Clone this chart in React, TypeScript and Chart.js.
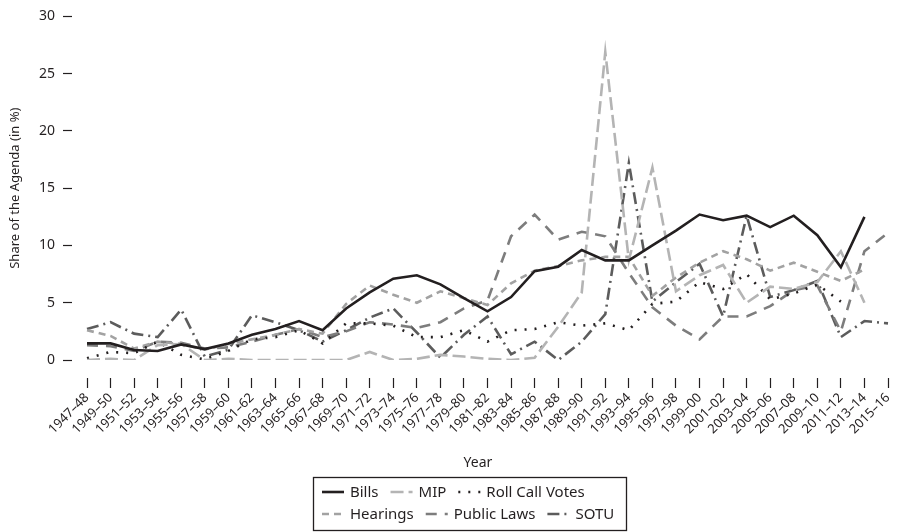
import React, { useEffect, useRef } from "react";
import { Chart, registerables } from "chart.js";

Chart.register(...registerables);

const FONT = "'Noto Sans', 'Open Sans', sans-serif";
const INK = "#231f20";

const categories = [
  "1947–48", "1949–50", "1951–52", "1953–54", "1955–56", "1957–58", "1959–60",
  "1961–62", "1963–64", "1965–66", "1967–68", "1969–70", "1971–72", "1973–74",
  "1975–76", "1977–78", "1979–80", "1981–82", "1983–84", "1985–86", "1987–88",
  "1989–90", "1991–92", "1993–94", "1995–96", "1997–98", "1999–00", "2001–02",
  "2003–04", "2005–06", "2007–08", "2009–10", "2011–12", "2013–14", "2015–16",
];

const bills = [
  1.45, 1.45, 0.87, 0.78, 1.36, 0.95, 1.45, 2.2, 2.7, 3.4,
  2.6, 4.5, 5.9, 7.1, 7.4, 6.6, 5.4, 4.25, 5.5, 7.75,
  8.15, 9.6, 8.7, 8.7, 10.0, 11.3, 12.7, 12.2, 12.6, 11.6,
  12.6, 10.9, 8.1, 12.5, null,
];

const mip = [
  0, 0.1, 0, 1.3, 1.4, 0, 0.1, 0, 0, 0,
  0, 0, 0.7, 0, 0.1, 0.45, 0.3, 0.1, 0, 0.2,
  2.9, 5.9, 26.9, 8.7, 16.8, 6.0, 7.4, 8.3, 5.0, 6.4,
  6.2, 6.8, 9.5, 5.0, null,
];

const rollCallVotes = [
  0.15, 0.7, 0.6, 1.6, 0.45, 0.05, 0.8, 1.8, 2.0, 2.6,
  1.45, 3.2, 3.2, 3.0, 2.0, 2.0, 2.6, 1.6, 2.6, 2.7,
  3.3, 3.0, 3.2, 2.6, 4.9, 5.1, 6.8, 6.2, 7.5, 5.3,
  5.8, 6.6, 5.1, null, null,
];

const hearings = [
  2.6, 2.1, 1.0, 1.6, 1.4, 0.9, 1.4, 1.8, 2.2, 2.7,
  2.3, 4.9, 6.5, 5.7, 5.0, 6.0, 5.4, 4.8, 6.7, 7.8,
  8.2, 8.7, 9.0, 9.0, 5.6, 7.2, 8.5, 9.5, 8.8, 7.8,
  8.5, 7.7, 6.9, 7.9, null,
];

const publicLaws = [
  1.3, 1.2, 0.8, 1.6, 1.5, 1.0, 1.1, 1.6, 2.2, 2.7,
  2.0, 2.5, 3.3, 3.1, 2.8, 3.3, 4.5, 5.2, 10.8, 12.7,
  10.5, 11.2, 10.8, 7.6, 4.6, 3.0, 1.8, 3.8, 3.8, 4.7,
  6.1, 6.5, 2.5, 9.5, 11.1,
];

const sotu = [
  2.7, 3.3, 2.3, 2.0, 4.4, 0.3, 0.9, 3.9, 3.3, 2.6,
  1.6, 2.6, 3.7, 4.5, 2.4, 0.2, 2.2, 3.8, 0.5, 1.6,
  0.0, 1.6, 4.0, 17.2, 5.1, 6.8, 8.4, 3.8, 12.6, 5.5,
  6.1, 6.9, 2.0, 3.4, 3.2,
];

const seriesNames = ["Bills", "MIP", "Roll Call Votes", "Hearings", "Public Laws", "SOTU"];
const seriesValues = [bills, mip, rollCallVotes, hearings, publicLaws, sotu];
const yTickValues = [0, 5, 10, 15, 20, 25, 30];

const seriesStyles = [
  { color: INK, dash: [] as number[], width: 2.6 },
  { color: "#b4b4b4", dash: [13, 5], width: 2.6 },
  { color: INK, dash: [2, 8], width: 2.6 },
  { color: "#a2a2a2", dash: [7, 5], width: 2.6 },
  { color: "#7d7d7d", dash: [11, 8], width: 2.6 },
  { color: "#5c5c5c", dash: [12, 5, 2, 5], width: 2.6 },
];

const legendPlugin = {
  id: "boxedLegend",
  afterDraw(chart: any) {
    const ctx = chart.ctx;
    ctx.save();
    ctx.fillStyle = INK;
    ctx.font = `14px ${FONT}`;
    ctx.textAlign = "center";
    ctx.textBaseline = "middle";
    ctx.fillText("Year", 478, 463);

    ctx.strokeStyle = INK;
    ctx.lineWidth = 1.3;
    ctx.strokeRect(313.5, 477.5, 313, 53);

    const rows = [[0, 1, 2], [3, 4, 5]];
    const rowY = [492, 514];
    ctx.font = `15px ${FONT}`;
    ctx.textAlign = "left";
    rows.forEach((row, r) => {
      let x = 322;
      const y = rowY[r];
      row.forEach((i) => {
        const ds = chart.data.datasets[i];
        ctx.save();
        ctx.strokeStyle = ds.borderColor;
        ctx.lineWidth = ds.borderWidth;
        ctx.setLineDash(ds.borderDash || []);
        ctx.beginPath();
        ctx.moveTo(x, y);
        ctx.lineTo(x + 22, y);
        ctx.stroke();
        ctx.restore();
        x += 28;
        ctx.fillText(ds.label, x, y + 1);
        x += ctx.measureText(ds.label).width + 12;
      });
    });
    ctx.restore();
  },
};

export default function App() {
  const canvasRef = useRef<HTMLCanvasElement | null>(null);

  useEffect(() => {
    if (!canvasRef.current) return;
    const chart = new Chart(canvasRef.current, {
      type: "line",
      data: {
        labels: categories,
        datasets: seriesNames.map((name, i) => ({
          label: name,
          data: seriesValues[i],
          borderColor: seriesStyles[i].color,
          backgroundColor: seriesStyles[i].color,
          borderWidth: seriesStyles[i].width,
          borderDash: seriesStyles[i].dash,
          pointRadius: 0,
          tension: 0,
          fill: false,
          spanGaps: false,
        })),
      },
      options: {
        animation: false,
        responsive: true,
        maintainAspectRatio: false,
        layout: { padding: { top: 15, right: 14, bottom: 0, left: 0 } },
        plugins: {
          legend: { display: false },
          tooltip: { enabled: false },
        },
        scales: {
          x: {
            type: "category",
            offset: false,
            border: { display: false },
            grid: {
              display: true,
              drawOnChartArea: false,
              tickLength: 28,
              tickColor: INK,
              tickWidth: 1.2,
              tickBorderDash: [0, 18, 10, 100],
            },
            ticks: {
              autoSkip: false,
              maxRotation: 45,
              minRotation: 45,
              padding: 2,
              color: INK,
              font: { size: 13, family: FONT },
            },
            afterFit: (s: any) => {
              s.height = 172;
            },
          },
          y: {
            min: 0,
            max: 30,
            border: { display: false },
            grid: {
              display: true,
              drawOnChartArea: false,
              tickLength: 24,
              tickColor: INK,
              tickWidth: 1.2,
              tickBorderDash: [9, 100],
            },
            afterBuildTicks: (s: any) => {
              s.ticks = yTickValues.map((v) => ({ value: v }));
            },
            ticks: {
              padding: 8,
              color: INK,
              font: { size: 14, family: FONT },
            },
            title: {
              display: true,
              text: "Share of the Agenda (in %)",
              color: INK,
              font: { size: 13, family: FONT },
              padding: { top: 7, bottom: 0 },
            },
            afterFit: (s: any) => {
              s.width = 87;
            },
          },
        },
      } as any,
      plugins: [legendPlugin],
    });
    return () => chart.destroy();
  }, []);

  return (
    <div style={{ position: "absolute", left: 0, top: 0, width: 902, height: 532, background: "#fff" }}>
      <canvas ref={canvasRef} />
    </div>
  );
}
